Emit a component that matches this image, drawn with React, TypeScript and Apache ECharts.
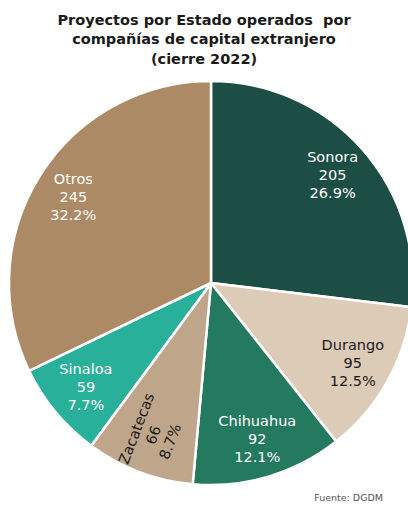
import React, { useEffect, useRef } from "react";
import * as echarts from "echarts";

const categories = ["Sonora", "Durango", "Chihuahua", "Zacatecas", "Sinaloa", "Otros"];
const values = [205, 95, 92, 66, 59, 245];
const percents = ["26.9%", "12.5%", "12.1%", "8.7%", "7.7%", "32.2%"];
const colors = ["#1d4e46", "#dccbb6", "#237a5f", "#bfa68a", "#28b09a", "#ad8a66"];
const labelColors = ["#ffffff", "#1a1a1a", "#ffffff", "#1a1a1a", "#ffffff", "#ffffff"];
const labelRotate = [0, 0, 0, 69, 0, 0];

const FONT = "'DejaVu Sans', sans-serif";

export default function App() {
  const ref = useRef<HTMLDivElement>(null);
  useEffect(() => {
    document.body.style.margin = "0";
    const chart = echarts.init(ref.current!, undefined, { renderer: "svg" });
    const center = [211, 283];
    const R = 202;
    chart.setOption({
      animation: false,
      title: {
        text: "Proyectos por Estado operados  por\ncompañías de capital extranjero\n(cierre 2022)",
        left: "center",
        top: 5,
        textStyle: { fontFamily: FONT, fontSize: 14.5, fontWeight: "bold", color: "#1a1a1a", lineHeight: 19.5 },
      },
      graphic: [
        {
          type: "text",
          right: 25,
          top: 492,
          style: { text: "Fuente: DGDM", fontFamily: FONT, fontSize: 9.5, fill: "#555" },
        },
      ],
      series: [
        {
          type: "pie",
          center,
          radius: [0, R],
          startAngle: 90,
          clockwise: true,
          silent: true,
          label: { show: false },
          labelLine: { show: false },
          itemStyle: { borderColor: "#ffffff", borderWidth: 2.5 },
          data: categories.map((c, i) => ({ name: c, value: values[i], itemStyle: { color: colors[i] } })),
        },
        {
          type: "pie",
          center,
          radius: [R * 0.58, R],
          startAngle: 90,
          clockwise: true,
          silent: true,
          itemStyle: { color: "rgba(0,0,0,0)" },
          labelLine: { show: false },
          data: categories.map((c, i) => ({
            name: c,
            value: values[i],
            label: {
              show: true,
              position: "inside",
              color: labelColors[i],
              rotate: labelRotate[i],
              fontFamily: FONT,
              fontSize: 14.5,
              lineHeight: 18,
              formatter: `${c}\n${values[i]}\n${percents[i]}`,
            },
          })),
        },
      ],
    });
    return () => chart.dispose();
  }, []);
  return <div ref={ref} style={{ width: 408, height: 505 }} />;
}
